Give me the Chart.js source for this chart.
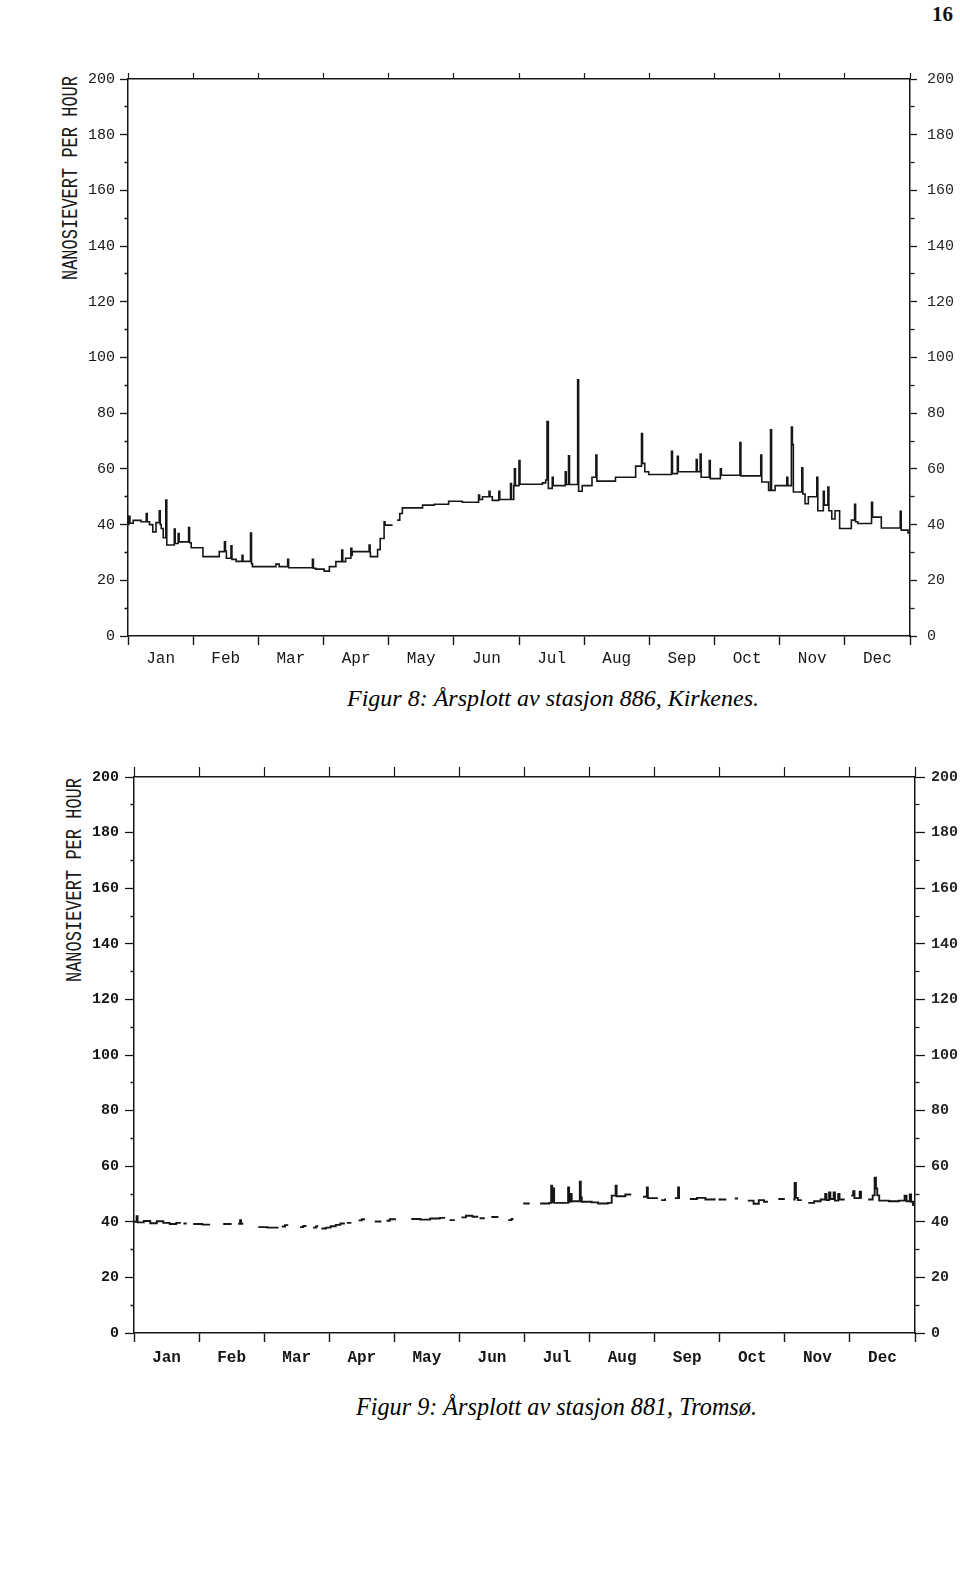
<!DOCTYPE html>
<html>
<head>
<meta charset="utf-8">
<script src="https://cdn.jsdelivr.net/npm/chart.js@4.4.1/dist/chart.umd.min.js"></script>
<style>
  body { margin: 0; background: #fff; }
  #page { position: relative; width: 960px; height: 1587px; overflow: hidden; }
  .plot { position: absolute; left: 0; width: 960px; height: 680px; }
  .ytitle { position: absolute; width: 240px; height: 20px; line-height: 20px; text-align: center;
            font-family: "Liberation Mono", monospace; font-size: 17px; color: #1a1a1a;
            transform: rotate(-90deg) scaleY(1.25); white-space: nowrap; }
  .caption { position: absolute; font-family: "Liberation Serif", serif; font-style: italic;
             line-height: 1; color: #000; white-space: nowrap; }
  #pnum { position: absolute; left: 932px; top: 4px; font-family: "Liberation Serif", serif;
          font-weight: bold; font-size: 21px; line-height: 1; color: #111; }
</style>
</head>
<body>
<div id="page">
  <div id="pnum">16</div>

  <div class="ytitle" style="left:-48px; top:168px;">NANOSIEVERT PER HOUR</div>
  <div class="plot" style="top:0px;"><canvas id="kirkenes" width="960" height="680"></canvas></div>
  <div class="caption" style="left:347px; top:686px; font-size:24px;">Figur 8: Årsplott av stasjon 886, Kirkenes.</div>

  <div class="ytitle" style="left:-44px; top:870px;">NANOSIEVERT PER HOUR</div>
  <div class="plot" style="top:700px;"><canvas id="tromso" width="960" height="680"></canvas></div>
  <div class="caption" style="left:356px; top:1395px; font-size:24.2px;">Figur 9: Årsplott av stasjon 881, Tromsø.</div>
</div>

<script>
// month labels (x axis runs 0..12, one unit per month)
var MONTHS = ['Jan', 'Feb', 'Mar', 'Apr', 'May', 'Jun', 'Jul', 'Aug', 'Sep', 'Oct', 'Nov', 'Dec'];
var Y_LABELS = [0, 20, 40, 60, 80, 100, 120, 140, 160, 180, 200];

// Figur 8 - Kirkenes (position in months, nSv/h); each point starts a new step level
var kirkX = [0.00, 0.01, 0.03, 0.08, 0.20, 0.28, 0.295, 0.33, 0.38, 0.43, 0.48, 0.495, 0.51, 0.54, 0.58, 0.595,
  0.71, 0.725, 0.77, 0.785, 0.93, 0.945, 0.97, 1.15, 1.40, 1.48, 1.495, 1.51, 1.58, 1.595, 1.66, 1.75, 1.765,
  1.88, 1.895, 1.91, 2.27, 2.32, 2.45, 2.465, 2.83, 2.845, 2.88, 3.01, 3.09, 3.19, 3.28, 3.295, 3.34, 3.42,
  3.435, 3.44, 3.70, 3.715, 3.72, 3.83, 3.87, 3.93, 3.945, 4.06, 4.07, 4.13, 4.17, 4.21, 4.52, 4.70, 4.92,
  5.13, 5.38, 5.395, 5.44, 5.54, 5.555, 5.59, 5.69, 5.705, 5.87, 5.885, 5.92, 5.93, 5.945, 6.00, 6.015, 6.36,
  6.41, 6.43, 6.45, 6.51, 6.525, 6.71, 6.725, 6.76, 6.775, 6.90, 6.915, 6.97, 7.12, 7.18, 7.195, 7.48, 7.79,
  7.88, 7.895, 7.93, 7.99, 8.34, 8.355, 8.43, 8.445, 8.72, 8.735, 8.78, 8.795, 8.92, 8.935, 9.09, 9.105,
  9.39, 9.405, 9.71, 9.725, 9.83, 9.86, 9.875, 9.93, 10.11, 10.125, 10.18, 10.195, 10.21, 10.34, 10.355,
  10.39, 10.44, 10.57, 10.585, 10.67, 10.685, 10.74, 10.755, 10.80, 10.85, 10.92, 11.10, 11.15, 11.165,
  11.20, 11.41, 11.425, 11.56, 11.85, 11.865, 11.97, 12.00];
var kirkY = [40, 43, 40.5, 41.5, 41, 44, 41, 40, 37.4, 40.7, 45, 40, 38.6, 35.3, 48.8, 32.7,
  38.4, 33.2, 36.8, 33.8, 38.9, 33.5, 31.7, 28.5, 30.3, 33.8, 30.5, 27.9, 32.4, 27.5, 26.8, 29, 26.8,
  37, 26, 24.9, 25.8, 24.9, 27.5, 24.5, 27.5, 24.3, 24, 23.3, 24.9, 26.7, 30.9, 26.7, 27.9, 31.5,
  29, 30.3, 32.7, 30, 28.5, 31, 35, 41, 39.8, 39.8, null, 41.6, 44, 46, 47, 47.3, 48.4,
  48, 50.6, 49, 50, 52, 50, 48.7, 52, 49, 54.7, 49, 54, 60, 54, 63, 54.5, 55,
  56, 77, 53, 57, 54, 59, 54.4, 64.7, 54.4, 92, 52, 54, 57, 65, 55.6, 57, 61,
  72.7, 62, 59, 58, 66.3, 58.3, 64.5, 59, 63.4, 59, 65.3, 57, 63, 56.5, 60, 57.7,
  69.5, 57.5, 65, 55.3, 52.3, 74, 52.3, 54, 57, 54, 75, 68.7, 51.7, 60.4, 51,
  47.5, 50, 57, 45, 52, 47, 53.5, 45, 42, 45, 38.6, 41.6, 47.3, 41,
  40.4, 48, 42.7, 38.8, 44.8, 38, 37, 37];

// Figur 9 - Tromsø (null = gap in the record)
var tromX = [0.00, 0.04, 0.055, 0.15, 0.25, 0.35, 0.45, 0.55, 0.65, 0.72, 0.73,
  0.76, 0.81, 0.82, 0.91, 1.05, 1.17, 1.18, 1.37, 1.50, 1.51, 1.60, 1.63, 1.645, 1.68, 1.69,
  1.91, 2.05, 2.22, 2.23, 2.27, 2.32, 2.37, 2.38, 2.55, 2.60, 2.65, 2.66, 2.75, 2.80, 2.83, 2.84,
  2.88, 2.95, 3.02, 3.10, 3.17, 3.24, 3.25, 3.27, 3.34, 3.35, 3.45, 3.50, 3.55, 3.56, 3.70, 3.80, 3.81,
  3.88, 3.93, 4.01, 4.02, 4.26, 4.40, 4.55, 4.70, 4.78, 4.79, 4.85, 4.93, 4.94,
  5.03, 5.10, 5.20, 5.29, 5.30, 5.31, 5.39, 5.40, 5.49, 5.60, 5.61, 5.75, 5.80, 5.83, 5.84,
  5.98, 6.08, 6.09, 6.24, 6.38, 6.41, 6.425, 6.44, 6.455, 6.67, 6.685, 6.71, 6.725, 6.85, 6.865, 6.88,
  7.03, 7.13, 7.28, 7.34, 7.40, 7.415, 7.55, 7.64, 7.65, 7.82, 7.88, 7.895, 7.95, 8.05, 8.06,
  8.10, 8.16, 8.17, 8.31, 8.36, 8.375, 8.39, 8.40, 8.54, 8.65, 8.78, 8.92, 8.93, 8.98, 9.10, 9.11,
  9.23, 9.28, 9.29, 9.43, 9.52, 9.60, 9.68, 9.74, 9.75, 9.90, 10.00, 10.01,
  10.13, 10.15, 10.17, 10.20, 10.26, 10.27, 10.36, 10.45, 10.55, 10.62, 10.64, 10.68, 10.70, 10.75,
  10.77, 10.82, 10.84, 10.92, 10.93, 11.02, 11.05, 11.07, 11.13, 11.15, 11.17, 11.18, 11.19,
  11.28, 11.35, 11.38, 11.40, 11.42, 11.45, 11.60, 11.75, 11.84, 11.87, 11.92, 11.94, 11.97, 12.00];
var tromY = [40, 42, 39.8, 40.3, 39.5, 40.2, 39.6, 39.2, 39.6, 39.6, null,
  39.4, 39.4, null, 39.2, 39.0, 39.0, null, 39.2, 39.2, null, 39.3, 40.6, 39.3, 39.3, null,
  38.1, 37.9, 37.9, null, 38.3, 38.8, 38.8, null, 38.1, 38.5, 38.5, null, 37.9, 38.4, 38.4, null,
  37.6, 37.9, 38.4, 38.9, 39.4, 39.4, null, 39.6, 39.6, null, 40.5, 40.9, 40.9, null, 40.1, 40.1, null,
  40.4, 40.9, 40.6, null, 41.0, 40.8, 41.2, 41.4, 41.4, null, 40.6, 40.6, null,
  41.6, 42.2, 41.8, 41.8, null, 41.3, 41.3, null, 41.7, 41.7, null, 40.6, 41.0, 41.0, null,
  46.6, 46.6, null, 46.6, 46.8, 53, 47, 52, 46.8, 52.4, 47.2, 50, 47.4, 54.4, 48.8, 47.2,
  47.0, 46.6, 46.8, 49.4, 53, 49.2, 49.8, 49.8, null, 49.0, 52.4, 48.5, 48.5, 48.5, null,
  47.8, 48.4, null, 48.5, 52.4, 48.5, 48.5, null, 48.2, 48.6, 48.0, 48.5, null, 48.0, 48.0, null,
  48.4, 48.4, null, 47.6, 46.5, 47.8, 47.2, 47.2, null, 48.2, 48.2, null,
  48.0, 54.0, 48.6, 47.8, 47.8, null, 46.8, 47.4, 48.0, 50.0, 47.8, 50.6, 48.2, 50.6,
  47.6, 50.0, 48.0, 48.0, null, 49.4, 51.0, 48.5, 48.5, 50.8, 48.5, 48.5, null,
  48.0, 49.5, 55.9, 52.0, 49.5, 47.6, 47.4, 47.6, 49.4, 47.4, 49.8, 47.2, 46.0, 46.0];

function points(xs, ys) {
  return xs.map(function(x, i) { return { x: x, y: ys[i] }; });
}

// ticks at every month edge and every month centre; only centres carry a name
function monthTicks(scale) {
  var t = [];
  MONTHS.forEach(function(m, i) { t.push({ value: i }); t.push({ value: i + 0.5 }); });
  t.push({ value: 12 });
  scale.ticks = t;
}

function buildChart(id, xs, ys, o) {
  var ink = '#161616';
  var ctx = document.getElementById(id).getContext('2d');
  return new Chart(ctx, {
    type: 'line',
    data: {
      datasets: [{
        data: points(xs, ys),
        borderColor: ink,
        borderWidth: o.lineW,
        pointRadius: 0,
        stepped: true,
        spanGaps: false,
        fill: false
      }]
    },
    options: {
      responsive: false,
      animation: false,
      events: [],
      layout: { padding: 0 },
      plugins: { legend: { display: false }, tooltip: { enabled: false } },
      scales: {
        x: {
          type: 'linear', position: 'bottom', min: 0, max: 12,
          afterBuildTicks: monthTicks,
          ticks: {
            autoSkip: false, maxRotation: 0, padding: o.monthPad, color: ink,
            font: { family: 'Liberation Mono', size: 16, weight: o.monthWeight },
            callback: function(v) { return Number.isInteger(v) ? '' : MONTHS[Math.floor(v)]; }
          },
          grid: {
            drawOnChartArea: false, tickLength: 9, tickWidth: 1.4,
            tickColor: function(c) { return Number.isInteger(c.tick.value) ? ink : 'rgba(0,0,0,0)'; }
          },
          border: { color: ink, width: 1.5 },
          afterFit: function(s) { s.height = o.bottomH; }
        },
        xTop: {
          type: 'linear', position: 'top', min: 0, max: 12,
          afterBuildTicks: monthTicks,
          ticks: { autoSkip: false, maxRotation: 0, callback: function() { return ''; } },
          grid: {
            drawOnChartArea: false, tickLength: o.topTick, tickWidth: 1.2,
            tickColor: function(c) { return Number.isInteger(c.tick.value) ? ink : 'rgba(0,0,0,0)'; }
          },
          border: { color: ink, width: 1.5 },
          afterFit: function(s) { s.height = o.topH; }
        },
        y: {
          type: 'linear', position: 'left', min: 0, max: 200,
          ticks: {
            stepSize: 10, autoSkip: false, padding: o.leftPad, color: ink,
            font: { family: 'Liberation Mono', size: 15, weight: o.numWeight },
            callback: function(v) { return Y_LABELS.indexOf(v) >= 0 ? String(v) : ''; }
          },
          grid: {
            drawOnChartArea: false, tickLength: o.leftTick, tickWidth: 1.3, tickColor: ink,
            tickBorderDash: function(c) { return c.tick.value % 20 === 0 ? [] : [0, o.leftTick - 3.5, 4, 50]; }
          },
          border: { color: ink, width: 1.5 },
          afterFit: function(s) { s.width = o.leftW; }
        },
        y2: {
          type: 'linear', position: 'right', min: 0, max: 200,
          ticks: {
            stepSize: 10, autoSkip: false, padding: o.rightPad, color: '#262626',
            font: { family: 'Liberation Mono', size: 15, weight: o.rightWeight },
            callback: function(v) { return Y_LABELS.indexOf(v) >= 0 ? String(v) : ''; }
          },
          grid: {
            drawOnChartArea: false, tickLength: o.rightTick, tickWidth: 1.3, tickColor: ink,
            tickBorderDash: function(c) { return c.tick.value % 20 === 0 ? [] : [4, 50]; }
          },
          border: { color: ink, width: 1.5 },
          afterFit: function(s) { s.width = o.rightW; }
        }
      }
    }
  });
}

buildChart('kirkenes', kirkX, kirkY, {
  lineW: 1.6, leftW: 128, rightW: 50, topH: 79, bottomH: 44,
  topTick: 6, leftTick: 8, rightTick: 7, leftPad: 5, rightPad: 10, monthPad: 4,
  monthWeight: 'normal', numWeight: 'normal', rightWeight: 'normal'
});

buildChart('tromso', tromX, tromY, {
  lineW: 1.9, leftW: 134, rightW: 45, topH: 77, bottomH: 47,
  topTick: 10, leftTick: 9, rightTick: 10, leftPad: 6, rightPad: 6, monthPad: 6,
  monthWeight: 'bold', numWeight: 'bold', rightWeight: 'bold'
});
</script>
</body>
</html>
